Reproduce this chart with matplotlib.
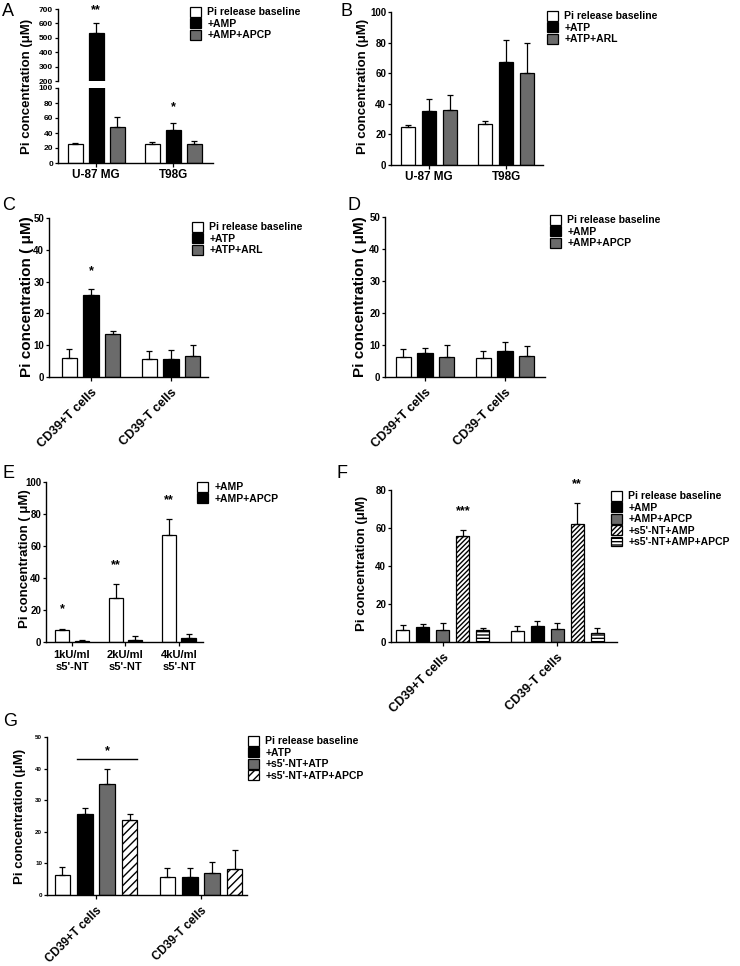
import matplotlib
matplotlib.use("Agg")
import matplotlib.pyplot as plt
import numpy as np

plt.rcParams["font.family"] = ["Liberation Sans", "DejaVu Sans"]
plt.rcParams["font.weight"] = "bold"
plt.rcParams["hatch.linewidth"] = 1.0

W, H = 740, 966
GRAY = "#6b6b6b"

# ---- data ----
cells = ["U-87 MG", "T98G"]
tcells = ["CD39+T cells", "CD39-T cells"]
doses = ["1kU/ml\ns5'-NT", "2kU/ml\ns5'-NT", "4kU/ml\ns5'-NT"]

# A: AMP on glioma lines
a_base, a_base_err = [26, 26], [0.5, 2.5]
a_amp, a_amp_err = [531, 44], [74, 10]
a_apcp, a_apcp_err = [47.5, 26], [13.5, 3]

# B: ATP on glioma lines
b_base, b_base_err = [25, 27], [0.9, 1.5]
b_atp, b_atp_err = [35.4, 67.4], [7.6, 14.5]
b_arl, b_arl_err = [36, 60.4], [9.8, 19.6]

# C: ATP on T cells
c_base, c_base_err = [6.1, 5.8], [2.8, 2.4]
c_atp, c_atp_err = [25.8, 5.8], [1.8, 2.6]
c_arl, c_arl_err = [13.4, 6.5], [1.1, 3.6]

# D: AMP on T cells
d_base, d_base_err = [6.1, 5.8], [2.8, 2.4]
d_amp, d_amp_err = [7.5, 8.2], [1.7, 2.6]
d_apcp, d_apcp_err = [6.3, 6.6], [3.6, 3.0]

# E: soluble 5'-NT doses
e_amp, e_amp_err = [7.3, 27.8, 67], [1.1, 8.2, 9.6]
e_apcp, e_apcp_err = [0.8, 1.5, 2.5], [0.7, 2.1, 2.5]

# F: AMP +/- s5'-NT on T cells
f_base, f_base_err = [6.1, 6.0], [3.0, 2.6]
f_amp, f_amp_err = [7.7, 8.2], [1.8, 3.0]
f_apcp, f_apcp_err = [6.5, 6.7], [3.5, 3.1]
f_nt, f_nt_err = [55.9, 62], [3.1, 11]
f_nt_apcp, f_nt_apcp_err = [6.1, 4.9], [1.3, 2.5]

# G: ATP +/- s5'-NT on T cells
g_base, g_base_err = [6.2, 5.8], [2.8, 2.7]
g_atp, g_atp_err = [25.6, 5.8], [1.8, 2.7]
g_nt, g_nt_err = [35.1, 7.1], [4.9, 3.5]
g_nt_apcp, g_nt_apcp_err = [23.8, 8.1], [1.8, 6.0]

fig = plt.figure(figsize=(W / 100, H / 100), dpi=100)


def px_axes(x0, y0, x1, y1):
    return fig.add_axes([x0 / W, 1 - y1 / H, (x1 - x0) / W, (y1 - y0) / H])


def style_axes(ax, tick_size):
    for side in ["top", "right"]:
        ax.spines[side].set_visible(False)
    for side in ["left", "bottom"]:
        ax.spines[side].set_linewidth(1.0)
    ax.tick_params(axis="y", length=2.5, width=0.9, labelsize=tick_size, pad=1)
    ax.tick_params(axis="x", length=3, width=0.9)


def draw_groups(ax, values, errors, styles, width, step):
    n = len(values)
    x = np.arange(len(values[0]))
    bars = []
    for i, (vals, errs, st) in enumerate(zip(values, errors, styles)):
        pos = x + (i - (n - 1) / 2) * step
        b = ax.bar(pos, vals, width, edgecolor="black", linewidth=0.9, **st)
        ax.errorbar(pos, vals, yerr=[np.zeros(len(vals)), errs], fmt="none",
                    ecolor="black", elinewidth=0.9, capsize=2.5, capthick=0.9)
        bars.append(b)
    return bars


def add_legend(ax, handles, labels, x, y):
    ax.legend(handles, labels, loc="upper left", bbox_to_anchor=(x / W, 1 - y / H),
              bbox_transform=fig.transFigure, frameon=False, fontsize=7.5,
              handlelength=1.05, handleheight=1.05, handletextpad=0.6,
              labelspacing=0.1, borderpad=0, borderaxespad=0)


def ylabel(x, y, text, size=9.5):
    fig.text(x / W, 1 - y / H, text, rotation=90, ha="center", va="center",
             fontsize=size, fontweight="bold")


def letter(x, y, text):
    fig.text(x / W, 1 - y / H, text, ha="center", va="center",
             fontsize=13, fontweight="normal")


WHITE = {"facecolor": "white"}
BLACK = {"facecolor": "black"}
GREY = {"facecolor": GRAY}

# ---------------- A (broken axis) ----------------
ax_hi = px_axes(58, 9, 213, 81)
ax_lo = px_axes(58, 88, 213, 163)
for ax in (ax_hi, ax_lo):
    style_axes(ax, 6)
    draw_groups(ax, [a_base, a_amp, a_apcp], [a_base_err, a_amp_err, a_apcp_err],
                [WHITE, BLACK, GREY], 0.195, 0.273)
    ax.set_xlim(-0.494, 1.519)
ax_hi.set_ylim(200, 700)
ax_hi.set_yticks(np.arange(200, 701, 100))
ax_hi.spines["bottom"].set_visible(False)
ax_hi.set_xticks([])
ax_lo.set_ylim(0, 100)
ax_lo.set_yticks(np.arange(0, 101, 20))
ax_lo.set_xticks([0, 1])
ax_lo.set_xticklabels(cells, fontsize=8.5)
ax_lo.tick_params(axis="x", pad=1)
ax_hi.text(0, 650, "**", ha="center", va="bottom", fontsize=9)
ax_lo.text(1, 66, "*", ha="center", va="bottom", fontsize=9)
hA = ax_lo.containers
add_legend(ax_lo, [hA[0], hA[2], hA[4]],
           ["Pi release baseline", "+AMP", "+AMP+APCP"], 190, 7)
ylabel(27, 86, "Pi concentration (\u03bcM)")
letter(8, 11, "A")

# ---------------- B ----------------
ax = px_axes(391, 12, 543, 165)
style_axes(ax, 7)
bars = draw_groups(ax, [b_base, b_atp, b_arl], [b_base_err, b_atp_err, b_arl_err],
                   [WHITE, BLACK, GREY], 0.18, 0.273)
ax.set_xlim(-0.494, 1.48)
ax.set_ylim(0, 100)
ax.set_yticks(np.arange(0, 101, 20))
ax.set_xticks([0, 1])
ax.set_xticklabels(cells, fontsize=8.5)
ax.tick_params(axis="x", pad=1)
add_legend(ax, bars, ["Pi release baseline", "+ATP", "+ATP+ARL"], 547, 11)
ylabel(363, 86, "Pi concentration (\u03bcM)")
letter(347, 11, "B")

# ---------------- C ----------------
ax = px_axes(49, 218, 208, 377)
style_axes(ax, 7)
bars = draw_groups(ax, [c_base, c_atp, c_arl], [c_base_err, c_atp_err, c_arl_err],
                   [WHITE, BLACK, GREY], 0.19, 0.27)
ax.set_xlim(-0.525, 1.4625)
ax.set_ylim(0, 50)
ax.set_yticks(np.arange(0, 51, 10))
ax.set_xticks([0, 1])
ax.set_xticklabels(tcells, fontsize=9, rotation=45, ha="right", rotation_mode="anchor")
ax.tick_params(axis="x", pad=4)
ax.text(0, 31.5, "*", ha="center", va="bottom", fontsize=9)
add_legend(ax, bars, ["Pi release baseline", "+ATP", "+ATP+ARL"], 192, 222)
ylabel(27, 297, "Pi concentration ( \u03bcM)", 11)
letter(9, 205, "C")

# ---------------- D ----------------
ax = px_axes(385, 217, 545, 377)
style_axes(ax, 7)
bars = draw_groups(ax, [d_base, d_amp, d_apcp], [d_base_err, d_amp_err, d_apcp_err],
                   [WHITE, BLACK, GREY], 0.19, 0.27)
ax.set_xlim(-0.5, 1.5)
ax.set_ylim(0, 50)
ax.set_yticks(np.arange(0, 51, 10))
ax.set_xticks([0, 1])
ax.set_xticklabels(tcells, fontsize=9, rotation=45, ha="right", rotation_mode="anchor")
ax.tick_params(axis="x", pad=4)
add_legend(ax, bars, ["Pi release baseline", "+AMP", "+AMP+APCP"], 550, 215)
ylabel(360, 297, "Pi concentration ( \u03bcM)", 11)
letter(354, 205, "D")

# ---------------- E ----------------
ax = px_axes(46, 482, 203, 642)
style_axes(ax, 7)
bars = draw_groups(ax, [e_amp, e_apcp], [e_amp_err, e_apcp_err],
                   [WHITE, BLACK], 0.27, 0.364)
ax.set_xlim(-0.486, 2.449)
ax.set_ylim(0, 100)
ax.set_yticks(np.arange(0, 101, 20))
ax.set_xticks([0, 1, 2])
ax.set_xticklabels(doses, fontsize=8, linespacing=1.15)
ax.tick_params(axis="x", pad=3)
for i, s in enumerate(["*", "**", "**"]):
    ax.text(i - 0.182, [16.5, 44, 85][i], s, ha="center", va="bottom", fontsize=9)
add_legend(ax, bars, ["+AMP", "+AMP+APCP"], 197, 482)
ylabel(25, 559, "Pi concentration ( \u03bcM)")
letter(8, 473, "E")

# ---------------- F ----------------
ax = px_axes(391, 490, 617, 642)
style_axes(ax, 7)
bars = draw_groups(ax, [f_base, f_amp, f_apcp, f_nt, f_nt_apcp],
                   [f_base_err, f_amp_err, f_apcp_err, f_nt_err, f_nt_apcp_err],
                   [WHITE, BLACK, GREY,
                    {"facecolor": "white", "hatch": "///////"},
                    {"facecolor": "white", "hatch": "-----"}], 0.114, 0.175)
ax.set_xlim(-0.454, 1.524)
ax.set_ylim(0, 80)
ax.set_yticks(np.arange(0, 81, 20))
ax.set_xticks([0, 1])
ax.set_xticklabels(tcells, fontsize=9, rotation=45, ha="right", rotation_mode="anchor")
ax.tick_params(axis="x", pad=4)
ax.text(0.175, 65.5, "***", ha="center", va="bottom", fontsize=9)
ax.text(1.175, 80, "**", ha="center", va="bottom", fontsize=9)
add_legend(ax, bars, ["Pi release baseline", "+AMP", "+AMP+APCP",
                      "+s5'-NT+AMP", "+s5'-NT+AMP+APCP"], 611, 491)
ylabel(362, 563, "Pi concentration (\u03bcM)")
letter(342, 473, "F")

# ---------------- G ----------------
ax = px_axes(47, 737, 247, 895)
style_axes(ax, 4.5)
bars = draw_groups(ax, [g_base, g_atp, g_nt, g_nt_apcp],
                   [g_base_err, g_atp_err, g_nt_err, g_nt_apcp_err],
                   [WHITE, BLACK, GREY, {"facecolor": "white", "hatch": "////"}],
                   0.148, 0.214)
ax.set_xlim(-0.467, 1.438)
ax.set_ylim(0, 50)
ax.set_yticks(np.arange(0, 51, 10))
ax.set_xticks([0, 1])
ax.set_xticklabels(tcells, fontsize=8.5, rotation=45, ha="right", rotation_mode="anchor")
ax.tick_params(axis="x", pad=4)
left = bars[1][0].get_x()
right = bars[3][0].get_x() + bars[3][0].get_width()
ax.plot([left, right], [43, 43], color="black", linewidth=1)
ax.text((left + right) / 2, 43.5, "*", ha="center", va="bottom", fontsize=9)
add_legend(ax, bars, ["Pi release baseline", "+ATP", "+s5'-NT+ATP",
                      "+s5'-NT+ATP+APCP"], 248, 736)
ylabel(20, 816, "Pi concentration (\u03bcM)")
letter(10, 721, "G")

fig.savefig("out.png", dpi=100)
